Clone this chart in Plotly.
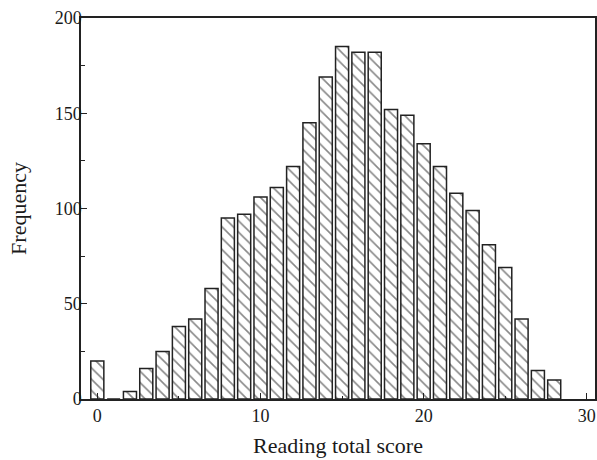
import plotly.graph_objects as go

scores = list(range(0, 29))
freq = [20, 0, 4, 16, 25, 38, 42, 58, 95, 97, 106, 111, 122, 145, 169, 185, 182, 182,
        152, 149, 134, 122, 108, 99, 81, 69, 42, 15, 10]
x_ticks = [0, 10, 20, 30]
y_ticks = [0, 50, 100, 150, 200]

fig = go.Figure(go.Bar(
    x=scores, y=freq, width=0.8,
    marker=dict(color="white", line=dict(color="#222", width=1.5),
                pattern=dict(shape="\\", fgcolor="#111", bgcolor="white", size=8, solidity=0.2)),
))

font = dict(family="Liberation Serif, Times New Roman, serif", size=18, color="#1a1a1a")
fig.update_layout(
    width=597, height=460, margin=dict(l=81, r=2, t=18, b=61),
    plot_bgcolor="white", paper_bgcolor="white", font=font, showlegend=False, bargap=0.2,
)
fig.update_xaxes(range=[-1, 30.5], tickvals=x_ticks, ticks="inside", ticklen=6, tickcolor="#222",
                 minor=dict(dtick=5, ticks="inside", ticklen=3, tickcolor="#222"),
                 showline=True, linecolor="#222", linewidth=1.5, mirror=True, showgrid=False,
                 zeroline=False, automargin=False,
                 title=dict(text="Reading total score", standoff=12))
fig.update_yaxes(range=[0, 200], tickvals=y_ticks, ticks="inside", ticklen=6, tickcolor="#222",
                 minor=dict(dtick=25, ticks="inside", ticklen=4, tickcolor="#222"),
                 showline=True, linecolor="#222", linewidth=1.5, mirror=True, showgrid=False,
                 zeroline=False, automargin=False, ticklabelstandoff=-6,
                 title=dict(text="Frequency", standoff=22))
fig.write_html("out.html", config={"displayModeBar": False},
               post_script="document.body.style.margin='0px';document.body.style.overflow='hidden';")
